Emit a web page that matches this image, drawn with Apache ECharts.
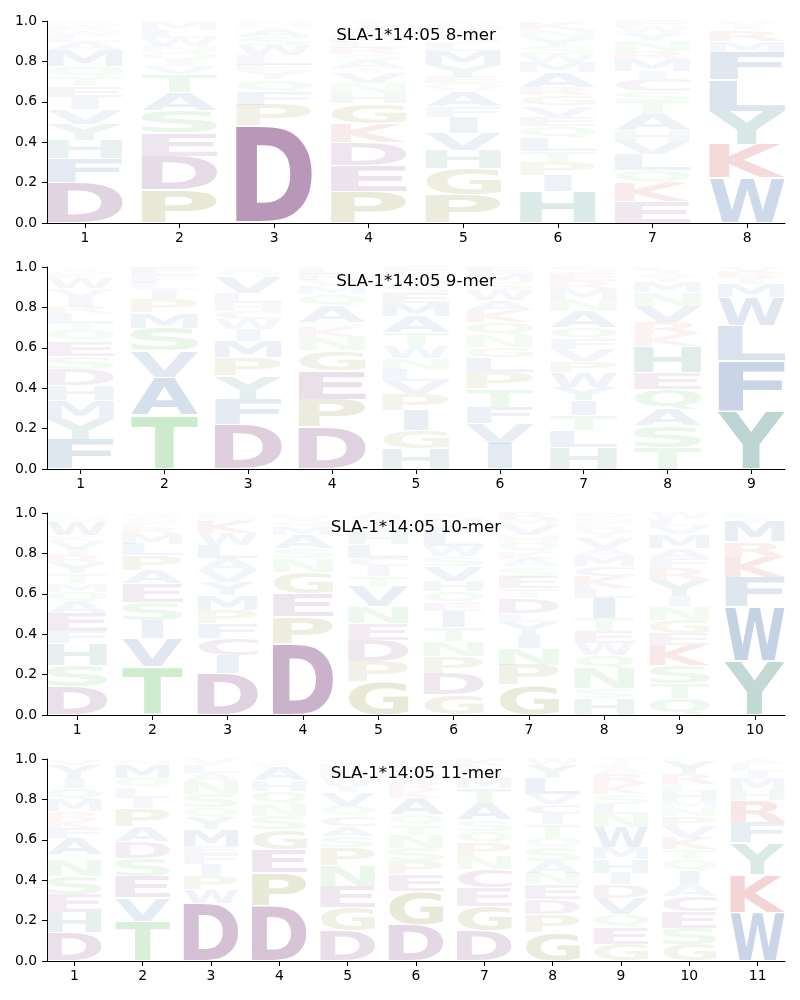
<!DOCTYPE html>
<html><head><meta charset="utf-8">
<script src="https://cdn.jsdelivr.net/npm/echarts@6/dist/echarts.min.js"></script>
<style>html,body{margin:0;padding:0;background:#fff}#c{width:800px;height:1000px}</style>
</head><body><div id="c"></div>
<script>
// ---------- DATA (letters stacked bottom -> top, with their frequencies) ----------
const titles = ["SLA-1*14:05 8-mer", "SLA-1*14:05 9-mer", "SLA-1*14:05 10-mer", "SLA-1*14:05 11-mer"];
const yTicks = [0, 0.2, 0.4, 0.6, 0.8, 1.0];

const letters8 = ["DFHYVIETQMALWRS", "PDESATVIQNWLM", "DPFQYELWSAMN", "PEDKGHNVTASRLMQWI",
  "PGHVIFAQEYMLSTNW", "HIPTLQEVGRAMWSYNK", "EKQLVHATSCIMRNYWF", "WKYLFMRIV"];
const values8 = [
  [.20,.12,.09,.08,.075,.06,.05,.05,.05,.08,.04,.03,.025,.025,.025],
  [.165,.165,.115,.11,.09,.09,.04,.03,.04,.03,.04,.04,.045],
  [.48,.105,.065,.06,.04,.03,.05,.05,.04,.04,.02,.02],
  [.156,.13,.115,.09,.10,.05,.05,.05,.025,.04,.03,.03,.03,.03,.03,.025,.02],
  [.14,.13,.09,.085,.08,.05,.075,.04,.03,.06,.07,.04,.035,.03,.025,.02],
  [.156,.08,.065,.055,.065,.06,.045,.055,.05,.04,.075,.05,.04,.04,.04,.04,.04],
  [.107,.09,.065,.08,.065,.05,.08,.065,.05,.06,.04,.06,.04,.05,.04,.03,.03],
  [.222,.165,.165,.156,.14,.05,.055,.025,.022]
];

const letters9 = ["FYMHDSEQTLRIVWKAN", "TAVSMPILFE", "DFYPMIWCHLVQA", "DPEGNKSAQMVRL",
  "HGIPVLNWTAMESQKF", "IVFTPLGNQKAWSME", "HLTIYWPVFQANMRES", "TSAQEHKRVNMYIL", "YFLWMIRV"];
const values9 = [
  [.148,.10,.09,.075,.08,.065,.075,.055,.035,.05,.03,.05,.04,.05,.025,.02,.012],
  [.264,.19,.13,.115,.074,.066,.05,.03,.04,.041],
  [.222,.124,.115,.09,.083,.058,.05,.04,.04,.05,.08,.03,.018],
  [.206,.14,.14,.10,.065,.05,.025,.08,.06,.04,.03,.03,.03],
  [.10,.09,.10,.08,.065,.06,.055,.06,.065,.08,.065,.05,.04,.03,.03,.03],
  [.124,.10,.083,.09,.083,.075,.05,.057,.066,.058,.05,.05,.04,.04,.034],
  [.107,.083,.074,.074,.066,.074,.057,.058,.05,.058,.08,.058,.05,.04,.04,.031],
  [.107,.107,.082,.10,.083,.13,.058,.058,.082,.066,.05,.03,.025,.022],
  [.288,.247,.173,.14,.066,.03,.03,.026]
];

const letters10 = ["DSHFEAQMTYRIVKWNL", "TVISEAPLMRFQW", "DICFPMYVALWKNE", "DPEGNSAMQVL",
  "GPDENVTICLHSQA", "GDPNTIEQHVSWLAMK", "GPNIYLDTESAKQHVMR", "HSNQWETILKCMAVYRFGD",
  "QTSKEGNIYRFAMVLW", "YWFKRMIL"];
const values10 = [
  [.14,.107,.107,.058,.09,.058,.05,.04,.05,.05,.04,.033,.04,.025,.066,.025,.021],
  [.239,.14,.09,.09,.09,.066,.074,.058,.05,.033,.025,.025,.02],
  [.206,.09,.082,.074,.066,.074,.066,.058,.058,.066,.058,.058,.024,.02],
  [.354,.132,.115,.107,.066,.05,.066,.04,.03,.025,.015],
  [.165,.10,.107,.083,.082,.10,.05,.05,.04,.066,.06,.035,.03,.032],
  [.10,.107,.082,.074,.07,.08,.04,.058,.05,.074,.05,.05,.066,.04,.035,.024],
  [.148,.10,.082,.066,.066,.04,.074,.05,.058,.05,.04,.033,.05,.033,.05,.03,.03],
  [.082,.05,.10,.066,.058,.058,.066,.10,.05,.058,.05,.05,.04,.05,.03,.025,.02,.025,.022],
  [.082,.075,.09,.10,.058,.066,.066,.05,.082,.058,.05,.05,.066,.04,.035,.032],
  [.267,.268,.148,.10,.074,.10,.025,.018]
];

const letters11 = ["DHESNTAFKRMQIYV", "TVESDAPILQMN", "DWPIFEMYQSNALV", "DPEGSNQHAKT",
  "DGENPSACQVIWKLT", "DGEPSNTQAKRVILM", "DGECNPQSATMILK", "GPDENASQTICVLYW",
  "GEQVDIHMWNLSKRAFT", "GSECAIQTKVPNMHLRYF", "WKYFRHMILA"];
const values11 = [
  [.14,.10,.09,.09,.082,.025,.082,.05,.04,.04,.058,.058,.05,.066,.029],
  [.198,.115,.107,.09,.082,.074,.09,.05,.05,.05,.066,.028],
  [.288,.066,.066,.058,.05,.04,.082,.058,.05,.066,.066,.04,.04,.03],
  [.272,.165,.115,.10,.066,.058,.066,.05,.066,.02,.022],
  [.148,.115,.107,.10,.09,.058,.05,.05,.05,.066,.033,.04,.035,.03,.028],
  [.18,.165,.082,.066,.066,.066,.05,.05,.082,.04,.04,.04,.03,.03,.013],
  [.148,.124,.09,.09,.066,.066,.058,.058,.082,.074,.05,.03,.03,.034],
  [.14,.09,.074,.074,.058,.058,.066,.05,.066,.05,.05,.05,.082,.062,.03],
  [.082,.082,.066,.082,.066,.058,.066,.058,.10,.066,.05,.05,.05,.05,.03,.014,.03],
  [.082,.082,.082,.074,.058,.066,.058,.05,.058,.058,.05,.04,.033,.05,.033,.05,.066,.01],
  [.24,.19,.157,.10,.107,.05,.058,.04,.03,.028]
];

// ---------- STYLE ----------
const groupColors = {
  acidic: [107, 38, 107],   // D E C
  olive: [120, 120, 20],    // P G
  basic: [190, 30, 30],     // K R
  hydro: [35, 85, 155],     // A V L I M F W
  teal: [25, 112, 102],     // H Y
  polar: [60, 175, 60]      // S T N Q
};
const letterGroup = {D:'acidic',E:'acidic',C:'acidic',P:'olive',G:'olive',K:'basic',R:'basic',
  A:'hydro',V:'hydro',L:'hydro',I:'hydro',M:'hydro',F:'hydro',W:'hydro',H:'teal',Y:'teal',
  S:'polar',T:'polar',N:'polar',Q:'polar'};

const GLYPH_FONT = 'bold 100px "DejaVu Sans"';
const VPAD = 0.04;
const HALF_W = 0.4;
const tops = [21, 267, 513, 759];
const plotH = 202;

const ctx = document.createElement('canvas').getContext('2d');
ctx.font = GLYPH_FONT; ctx.textAlign = 'center'; ctx.textBaseline = 'middle';
const metricCache = {};
function met(ch) {
  if (!metricCache[ch]) {
    const m = ctx.measureText(ch);
    metricCache[ch] = {L: m.actualBoundingBoxLeft, R: m.actualBoundingBoxRight,
      A: m.actualBoundingBoxAscent, D: m.actualBoundingBoxDescent};
  }
  return metricCache[ch];
}
const eWidth = met('E').L + met('E').R;

const panels = [
  {letters: letters8, values: values8},
  {letters: letters9, values: values9},
  {letters: letters10, values: values10},
  {letters: letters11, values: values11}
];

const grid = [], xAxis = [], yAxis = [], series = [], title = [];
panels.forEach((p, gi) => {
  const n = p.letters.length;
  const positions = [];
  for (let i = 1; i <= n; i++) positions.push(i);
  grid.push({left: 47, right: 15, top: tops[gi], height: plotH});
  title.push({text: titles[gi], left: 416, top: tops[gi] + 6, textAlign: 'center', padding: 0,
    textStyle: {fontFamily: 'DejaVu Sans', fontSize: 16.7, fontWeight: 'normal', color: '#000'}});
  xAxis.push({type: 'value', gridIndex: gi, min: 1 - HALF_W - 0.2 + 0.2, max: n + HALF_W,
    axisLine: {show: true, onZero: false, lineStyle: {color: '#000', width: 1}},
    axisTick: {show: true, length: 5, customValues: positions, lineStyle: {color: '#000', width: 1}},
    axisLabel: {show: true, customValues: positions, color: '#000', fontSize: 13.9, fontFamily: 'DejaVu Sans', margin: 8},
    splitLine: {show: false}});
  yAxis.push({type: 'value', gridIndex: gi, min: 0, max: 1, interval: 0.2,
    axisLine: {show: true, lineStyle: {color: '#000', width: 1}},
    axisTick: {show: true, length: 5, lineStyle: {color: '#000', width: 1}},
    axisLabel: {color: '#000', fontSize: 13.9, fontFamily: 'DejaVu Sans', margin: 10,
      formatter: v => v.toFixed(1)},
    splitLine: {show: false}});
  const data = [], chars = [];
  p.letters.forEach((str, i) => {
    let cum = 0;
    p.values[i].forEach((v, j) => {
      data.push([i + 1, cum, cum + v]);
      chars.push(str[j]);
      cum += v;
    });
  });
  series.push({
    type: 'custom', xAxisIndex: gi, yAxisIndex: gi, data: data, silent: true,
    encode: {x: 0, y: [1, 2]},
    renderItem: (params, api) => {
      const pos = api.value(0), y0 = api.value(1), y1 = api.value(2);
      const ch = chars[params.dataIndex];
      const tl = api.coord([pos - HALF_W, y1]);
      const br = api.coord([pos + HALF_W, y0]);
      const bw = br[0] - tl[0], bh = br[1] - tl[1];
      const pad = bh * VPAD / 2;
      const top = tl[1] + pad, h = bh - 2 * pad;
      const m = met(ch);
      const gw = m.L + m.R, gh = m.A + m.D;
      const sx = Math.min(bw / gw, bw / eWidth);
      const cw = sx * gw;
      const left = tl[0] + (bw - cw) / 2;
      const sy = h / gh;
      const c = groupColors[letterGroup[ch]];
      const a = Math.max(0, Math.min(1, y1 - y0));
      return {type: 'text', x: left + sx * m.L, y: top + sy * m.A, scaleX: sx, scaleY: sy,
        style: {text: ch, x: 0, y: 0, font: GLYPH_FONT, align: 'center', verticalAlign: 'middle',
          fill: 'rgba(' + c[0] + ',' + c[1] + ',' + c[2] + ',' + a.toFixed(3) + ')'}};
    }
  });
});
xAxis.forEach((ax, i) => { ax.min = 0.6; });

const chart = echarts.init(document.getElementById('c'), null, {renderer: 'canvas'});
chart.setOption({animation: false, backgroundColor: '#fff', title, grid, xAxis, yAxis, series});
</script>
</body></html>
